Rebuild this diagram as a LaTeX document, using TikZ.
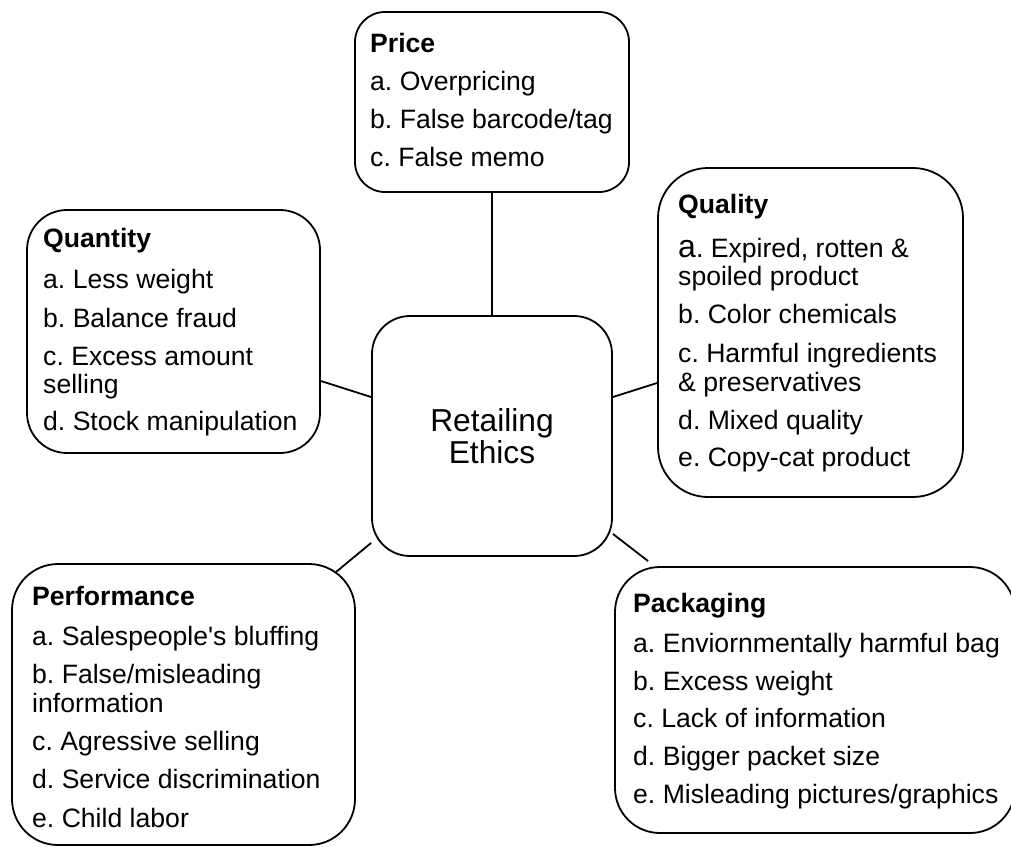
\documentclass[tikz,border=0pt]{standalone}
\usepackage{fontspec}
\setmainfont{Liberation Sans}
\frenchspacing
\begin{document}
\begin{tikzpicture}[x=1pt,y=-1pt,
  box/.style={draw, line width=1.8pt, rounded corners=#1, inner sep=0pt},
  txt/.style={inner sep=0pt, anchor=base west, font=\fontsize{26.6}{28.5}\selectfont},
  link/.style={line width=1.8pt}]
\useasboundingbox (0,0) rectangle (1011,846);
% boxes
\node[box=30pt, minimum width=274pt, minimum height=180pt] (price) at (492,102) {};
\node[box=38pt, minimum width=240pt, minimum height=240pt, align=center,
      font=\fontsize{31.7}{32}\selectfont] (core) at (492,436) {Retailing\\Ethics};
\node[box=40pt, minimum width=293pt, minimum height=243pt] (quantity) at (173.5,331.5) {};
\node[box=50pt, minimum width=305pt, minimum height=329pt] (quality) at (810.5,332.5) {};
\node[box=46pt, minimum width=343pt, minimum height=281pt] (performance) at (183.5,704.5) {};
\node[box=45pt, minimum width=400pt, minimum height=266pt] (packaging) at (815,700) {};
% texts
\node[txt] (pricet) at (370,52) {\parbox[t]{300pt}{\raggedright
  \textbf{Price}\\[9.5pt]
  a. Overpricing\\[9.5pt]
  b. False barcode/tag\\[10pt]
  c. False memo}};
\node[txt] (quantityt) at (43,247) {\parbox[t]{300pt}{\raggedright
  \textbf{Quantity}\\[12.5pt]
  a. Less weight\\[10.5pt]
  b. Balance fraud\\[9.5pt]
  c. Excess amount\\
  selling\\[8.5pt]
  d. Stock manipulation}};
\node[txt] (qualityt) at (678,213) {\parbox[t]{300pt}{\raggedright
  \textbf{Quality}\\[15.5pt]
  {\fontsize{32}{28.5}\selectfont a}. Expired, rotten \&\\
  spoiled product\\[9.5pt]
  b. Color chemicals\\[10.5pt]
  c. Harmful ingredients\\
  \& preservatives\\[9.5pt]
  d. Mixed quality\\[8.5pt]
  e. Copy-cat product}};
\node[txt] (performancet) at (32,605) {\parbox[t]{330pt}{\raggedright
  \textbf{Performance}\\[11.5pt]
  a. Salespeople\textquotesingle s bluffing\\[9.5pt]
  b. False/misleading\\[0.5pt]
  information\\[9.5pt]
  c. Agressive selling\\[9.5pt]
  d. Service discrimination\\[10.5pt]
  e. Child labor}};
\node[txt] (packagingt) at (633,612) {\parbox[t]{380pt}{\raggedright
  \textbf{Packaging}\\[11.5pt]
  a. Enviornmentally harmful bag\\[9.5pt]
  b. Excess weight\\[8.5pt]
  c. Lack of information\\[9.5pt]
  d. Bigger packet size\\[9.5pt]
  e. Misleading pictures/graphics}};
% connectors
\draw[link] (price.south) -- (core.north);
\draw[link] ([yshift=-49.5pt]quantity.east) -- ([yshift=39pt]core.west);
\draw[link] ([yshift=39pt]core.east) -- ([yshift=-50.5pt]quality.west);
\draw[link] ([yshift=14pt]core.south west) -- ([shift={(-20pt,-9pt)}]performance.north east);
\draw[link] ([yshift=23pt]core.south east) -- ([shift={(34pt,5pt)}]packaging.north west);
\end{tikzpicture}
\end{document}
